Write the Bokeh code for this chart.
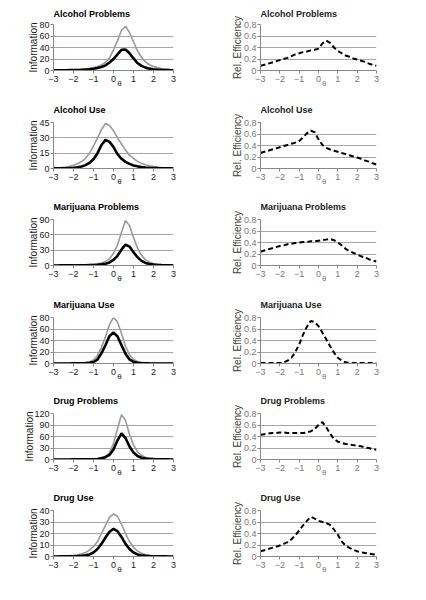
from bokeh.plotting import figure
from bokeh.layouts import gridplot
from bokeh.models import Range1d, FixedTicker, LinearAxis
from bokeh.embed import file_html
from bokeh.resources import INLINE

theta = [-3.0, -2.8, -2.6, -2.4, -2.2, -2.0, -1.8, -1.6, -1.4, -1.2, -1.0, -0.8, -0.6, -0.4, -0.2,
         0.0, 0.2, 0.4, 0.6, 0.8, 1.0, 1.2, 1.4, 1.6, 1.8, 2.0, 2.2, 2.4, 2.6, 2.8, 3.0]
x_ticks = [-3, -2, -1, 0, 1, 2, 3]

titles = ["Alcohol Problems", "Alcohol Use", "Marijuana Problems", "Marijuana Use", "Drug Problems", "Drug Use"]
info_max = [80, 45, 90, 80, 120, 40]
info_ticks = [[0, 20, 40, 60, 80], [0, 15, 30, 45], [0, 30, 60, 90], [0, 20, 40, 60, 80],
              [0, 30, 60, 90, 120], [0, 10, 20, 30, 40]]
eff_ticks = [0, 0.2, 0.4, 0.6, 0.8]

# Information curves: gray = full pool, black = short form
alc_prob_total = [0.5, 0.6, 0.7, 0.9, 1.1, 1.3, 1.7, 2.2, 2.9, 3.8, 5.0, 6.8, 9.5, 14, 22,
                  36, 52, 70, 77, 66, 50, 34, 23, 15, 10, 7, 5, 3.5, 2.5, 1.8, 1.3]
alc_prob_short = [0.3, 0.35, 0.4, 0.5, 0.6, 0.7, 0.9, 1.2, 1.6, 2.2, 3.0, 4.2, 6.0, 9.0, 14,
                  20, 28, 36, 36.5, 30, 21, 13, 8, 5, 3.2, 2.2, 1.5, 1.1, 0.8, 0.6, 0.5]
alc_use_total = [0.5, 0.7, 1.0, 1.4, 2.1, 3.1, 4.6, 6.8, 10, 15, 22, 30, 38, 44, 42,
                 37, 30, 24, 18, 13, 10, 7, 5, 3.6, 2.6, 1.9, 1.4, 1.0, 0.7, 0.5, 0.4]
alc_use_short = [0.1, 0.15, 0.2, 0.3, 0.5, 0.8, 1.2, 2.0, 3.3, 5.5, 9, 15, 23, 28, 26,
                 21, 14, 9.5, 6.5, 4.5, 3, 2.1, 1.5, 1.0, 0.7, 0.5, 0.35, 0.25, 0.2, 0.15, 0.1]
mj_prob_total = [0.3, 0.3, 0.4, 0.5, 0.6, 0.7, 0.9, 1.1, 1.4, 1.8, 2.5, 3.5, 5, 8, 13,
                 24, 40, 65, 88, 78, 55, 34, 20, 11, 6.5, 4, 2.5, 1.6, 1.1, 0.8, 0.6]
mj_prob_short = [0.1, 0.1, 0.15, 0.2, 0.25, 0.3, 0.4, 0.5, 0.6, 0.8, 1.0, 1.5, 2.3, 3.5, 6,
                 11, 19, 31, 41, 37, 26, 16, 9, 5, 3, 1.8, 1.1, 0.7, 0.5, 0.3, 0.2]
mj_use_total = [0.2, 0.2, 0.3, 0.4, 0.5, 0.6, 0.8, 1.1, 1.7, 3.0, 6, 14, 28, 47, 68,
                80, 72, 52, 30, 15, 7, 3.5, 1.9, 1.1, 0.7, 0.4, 0.3, 0.2, 0.15, 0.1, 0.1]
mj_use_short = [0.05, 0.05, 0.05, 0.1, 0.1, 0.15, 0.2, 0.3, 0.5, 1.2, 2.5, 7, 18, 32, 48,
                54, 47, 32, 17, 7, 2.8, 1.2, 0.5, 0.25, 0.15, 0.1, 0.05, 0.05, 0.05, 0.05, 0.05]
drug_prob_total = [0.2, 0.25, 0.3, 0.35, 0.4, 0.5, 0.6, 0.8, 1.0, 1.3, 1.7, 2.5, 4.5, 8.5, 17,
                   42, 80, 117, 102, 66, 38, 20, 11, 6, 3.5, 2.2, 1.4, 0.9, 0.6, 0.4, 0.3]
drug_prob_short = [0.1, 0.1, 0.1, 0.15, 0.15, 0.2, 0.25, 0.3, 0.4, 0.55, 0.8, 1.5, 3, 6, 12,
                   26, 50, 68, 56, 34, 18, 9, 4.5, 2.4, 1.4, 0.9, 0.6, 0.4, 0.3, 0.2, 0.15]
drug_use_total = [0.2, 0.3, 0.4, 0.5, 0.7, 1.0, 1.5, 2.3, 3.5, 5.5, 8.5, 13, 20, 27, 34,
                  37, 35, 28, 20, 13, 8, 4.8, 2.9, 1.8, 1.1, 0.7, 0.5, 0.3, 0.2, 0.15, 0.1]
drug_use_short = [0.05, 0.06, 0.08, 0.1, 0.15, 0.2, 0.35, 0.6, 1.0, 1.8, 3.5, 6.5, 11, 16.5, 21.5,
                  24, 22, 17, 11, 6.5, 3.5, 1.8, 1.0, 0.6, 0.35, 0.2, 0.15, 0.1, 0.08, 0.06, 0.05]

# Relative efficiency curves
alc_prob_eff = [0.08, 0.10, 0.12, 0.14, 0.16, 0.18, 0.20, 0.22, 0.25, 0.28, 0.30, 0.32, 0.33, 0.35, 0.36,
                0.38, 0.47, 0.52, 0.48, 0.40, 0.34, 0.30, 0.26, 0.24, 0.21, 0.19, 0.17, 0.15, 0.12, 0.10, 0.08]
alc_use_eff = [0.27, 0.29, 0.31, 0.33, 0.35, 0.37, 0.39, 0.41, 0.43, 0.45, 0.48, 0.54, 0.61, 0.66, 0.63,
               0.51, 0.41, 0.36, 0.33, 0.31, 0.29, 0.27, 0.25, 0.23, 0.21, 0.19, 0.17, 0.14, 0.12, 0.09, 0.07]
mj_prob_eff = [0.24, 0.26, 0.28, 0.30, 0.32, 0.34, 0.35, 0.37, 0.38, 0.39, 0.40, 0.41, 0.41, 0.42, 0.42,
               0.43, 0.44, 0.45, 0.46, 0.44, 0.40, 0.35, 0.29, 0.25, 0.22, 0.19, 0.16, 0.14, 0.11, 0.09, 0.07]
mj_use_eff = [0.01, 0.01, 0.01, 0.01, 0.01, 0.01, 0.02, 0.05, 0.10, 0.20, 0.33, 0.50, 0.64, 0.74, 0.72,
              0.65, 0.54, 0.42, 0.30, 0.19, 0.10, 0.05, 0.02, 0.01, 0.01, 0.01, 0.01, 0.01, 0.01, 0.01, 0.01]
drug_prob_eff = [0.43, 0.44, 0.45, 0.46, 0.46, 0.47, 0.47, 0.46, 0.46, 0.46, 0.46, 0.46, 0.47, 0.49, 0.53,
                 0.60, 0.65, 0.56, 0.45, 0.36, 0.31, 0.29, 0.27, 0.26, 0.25, 0.24, 0.23, 0.21, 0.20, 0.18, 0.17]
drug_use_eff = [0.09, 0.11, 0.13, 0.15, 0.17, 0.19, 0.22, 0.25, 0.30, 0.37, 0.45, 0.54, 0.62, 0.69, 0.66,
                0.62, 0.60, 0.58, 0.55, 0.47, 0.38, 0.26, 0.19, 0.15, 0.12, 0.09, 0.07, 0.06, 0.05, 0.04, 0.03]

totals = [alc_prob_total, alc_use_total, mj_prob_total, mj_use_total, drug_prob_total, drug_use_total]
shorts = [alc_prob_short, alc_use_short, mj_prob_short, mj_use_short, drug_prob_short, drug_use_short]
effs = [alc_prob_eff, alc_use_eff, mj_prob_eff, mj_use_eff, drug_prob_eff, drug_use_eff]

FONT = "Liberation Sans"
FRAME_H = 46
row_heights = [95, 97, 98, 96, 97, 97]
top_borders = [24, 27, 27, 27, 27, 27]
left_label_standoff = [-3, -3, -3, -3, -4, -3]
THETA_X = 0.3


def style(p, yticks, ylabel, tick_color, label_color, title, top, title_color, label_standoff):
    p.outline_line_color = None
    p.background_fill_color = "white"
    p.border_fill_color = "white"
    p.xgrid.visible = False
    p.ygrid.grid_line_color = "#a6a6a6"
    p.ygrid.grid_line_width = 1
    p.xaxis.ticker = FixedTicker(ticks=x_ticks)
    p.yaxis.ticker = FixedTicker(ticks=yticks)
    for ax in (p.xaxis[0], p.yaxis[0]):
        ax.axis_line_color = "#888888"
        ax.major_tick_line_color = "#888888"
        ax.minor_tick_line_color = None
        ax.major_tick_in = 0
        ax.major_tick_out = 3
        ax.major_label_text_font = FONT
        ax.major_label_text_font_size = "9px"
        ax.major_label_text_color = tick_color
    p.xaxis.major_label_standoff = 2
    p.yaxis.major_label_standoff = 1
    p.yaxis.axis_label = ylabel
    p.yaxis.axis_label_text_font = FONT
    p.yaxis.axis_label_text_font_size = "10px"
    p.yaxis.axis_label_text_font_style = "normal"
    p.yaxis.axis_label_text_color = label_color
    p.yaxis.axis_label_standoff = label_standoff
    # theta symbol under the axis, next to the 0 tick
    th = LinearAxis(ticker=FixedTicker(ticks=[THETA_X]), major_label_overrides={THETA_X: "θ"},
                    axis_line_color=None, major_tick_line_color=None, minor_tick_line_color=None,
                    major_tick_in=0, major_tick_out=0, major_label_standoff=-6,
                    major_label_text_font=FONT, major_label_text_font_size="8px",
                    major_label_text_color=tick_color)
    p.add_layout(th, "below")
    # title
    p.title.text = title
    p.title.text_font = FONT
    p.title.text_font_size = "9px"
    p.title.text_font_style = "bold"
    p.title.text_color = title_color
    p.title.align = "left"
    p.title.offset = 0
    p.title.vertical_align = "top"
    p.title.standoff = top - 16


rows = []
for i in range(6):
    h = row_heights[i]
    top = top_borders[i]
    bottom = h - top - FRAME_H

    p = figure(width=205, height=h, x_range=Range1d(-3, 3), y_range=Range1d(0, info_max[i]),
               output_backend="svg", toolbar_location=None,
               min_border_left=53, min_border_right=32, min_border_top=top, min_border_bottom=bottom)
    style(p, info_ticks[i], "Information", "#1a1a1a", "#1a1a1a", titles[i], top, "black",
          left_label_standoff[i])
    p.line(theta, totals[i], line_color="#9a9a9a", line_width=1.6)
    p.line(theta, shorts[i], line_color="black", line_width=2.6)

    q = figure(width=205, height=h, x_range=Range1d(-3, 3), y_range=Range1d(0, 0.8),
               output_backend="svg", toolbar_location=None,
               min_border_left=55, min_border_right=34, min_border_top=top, min_border_bottom=bottom)
    style(q, eff_ticks, "Rel. Efficiency", "#777777", "#404040", titles[i], top, "#222222", -2)
    q.yaxis.major_label_overrides = {0: "0", 0.2: "0.2", 0.4: "0.4", 0.6: "0.6", 0.8: "0.8"}
    q.line(theta, effs[i], line_color="black", line_width=2, line_dash="5 3")
    rows.append([p, q])

grid = gridplot(rows, toolbar_location=None)
open("out.html", "w").write(file_html(grid, INLINE))
